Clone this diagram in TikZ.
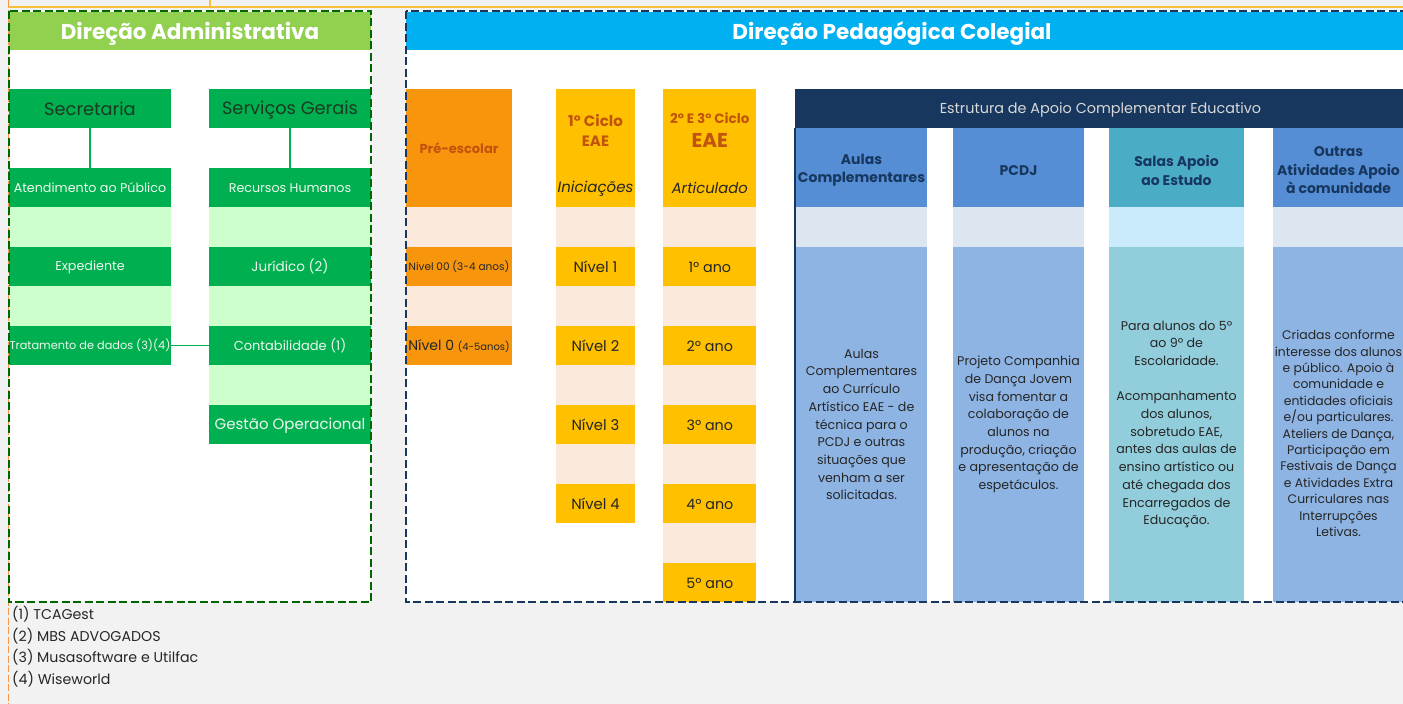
\documentclass[tikz,border=0pt]{standalone}
\usepackage{fontspec}
\setmainfont{Poppins}
\usepackage{tikz}

\definecolor{cBg}{HTML}{F2F2F2}
\definecolor{cTopLine}{HTML}{F9BE3A}
\definecolor{cLeftLine}{HTML}{F79646}
\definecolor{cAdmHead}{HTML}{92D050}
\definecolor{cAdmDark}{HTML}{00B050}
\definecolor{cAdmLight}{HTML}{CCFFCC}
\definecolor{cAdmLine}{HTML}{006600}
\definecolor{cAdmTop}{HTML}{1A3A22}
\definecolor{cAdmTxt}{HTML}{EEF7EE}
\definecolor{cPedHead}{HTML}{00B0F0}
\definecolor{cNavy}{HTML}{17375E}
\definecolor{cOrange}{HTML}{F7960C}
\definecolor{cYellow}{HTML}{FFC000}
\definecolor{cPeach}{HTML}{FBE9DC}
\definecolor{cBrown}{HTML}{C0540C}
\definecolor{cBlue}{HTML}{558ED5}
\definecolor{cBlueLight}{HTML}{DCE6F1}
\definecolor{cBlueBody}{HTML}{8EB4E3}
\definecolor{cTeal}{HTML}{4BACC6}
\definecolor{cTealLight}{HTML}{CAEBFB}
\definecolor{cTealBody}{HTML}{92CDDC}
\definecolor{cText}{HTML}{262626}
\definecolor{cEstrTxt}{HTML}{D9D9D9}

\begin{document}
\begin{tikzpicture}[x=1pt,y=-1pt,
    cell/.style={inner sep=0pt, outer sep=0pt, minimum height=39.5pt, align=center},
    line1/.style={execute at begin node={\rule[-0.15em]{0pt}{1.05em}}},
    adm/.style={cell, line1, fill=cAdmDark, minimum width=162pt, text=cAdmTxt, font=\fontsize{12.7}{15}\selectfont},
    admtop/.style={adm, text=cAdmTop, font=\fontsize{17.8}{21}\selectfont},
    admgap/.style={cell, fill=cAdmLight, minimum width=162pt},
    admlink/.style={cAdmDark, line width=1pt},
    headtxt/.style={inner sep=0pt, line1, text=white, font=\bfseries\fontsize{21.5}{25}\selectfont},
    pre/.style={cell, line1, fill=cOrange, minimum width=106pt, text=cText},
    ciclo/.style={cell, line1, fill=cYellow, text=cText, font=\fontsize{14.8}{17}\selectfont},
    peach/.style={cell, fill=cPeach},
    cicloname/.style={align=center, inner sep=0pt, text=cBrown, font=\bfseries\fontsize{15}{20}\selectfont},
    apoiohd/.style={cell, minimum width=131pt, minimum height=79pt},
    hdtxt/.style={yshift=-2.5pt, align=center, inner sep=0pt, text=cNavy, font=\bfseries\fontsize{14}{18.5}\selectfont},
    apoiogap/.style={cell, minimum width=131pt},
    apoiobody/.style={cell, minimum width=131pt, minimum height=355.2pt, text=cText, font=\fontsize{12.6}{17.7}\selectfont},
    note/.style={anchor=west, inner sep=0pt, line1, text=cText, font=\fontsize{14.2}{17}\selectfont},
    border/.style={line width=2pt, dash pattern=on 8pt off 3.5pt}]

    \clip (0,0) rectangle (1403,704);
    \fill[cBg] (0,0) rectangle (1403,704);

    % guide lines of the sheet
    \draw[cTopLine, line width=1.2pt] (8,7) -- (1403,7);
    \draw[cTopLine, line width=1.2pt] (210,0) -- (210,7);
    \draw[cLeftLine, dash pattern=on 7pt off 2.5pt] (8,0) -- (8,704);

    % panels
    \fill[white] (8.5,11) rectangle (371,602);
    \fill[white] (406,11) rectangle (1410,602);
    \fill[cAdmHead] (9,12) rectangle (371,50);
    \fill[cPedHead] (406,12) rectangle (1410,50);
    \node[headtxt] (admhead) at (190,32.5) {Direção Administrativa};
    \node[headtxt] (pedhead) at (892,32.5) {Direção Pedagógica Colegial};

    % direcao administrativa
    \node[admtop] (sec) at (90,108.7) {Secretaria};
    \node[admtop] (serv) at (290,108.7) {Serviços Gerais};
    \node[adm] (aten) at (90,187.7) {Atendimento ao Público};
    \node[adm] (exped) at (90,266.7) {Expediente};
    \node[adm, font=\fontsize{11.3}{14}\selectfont] (trat) at (90,345.7) {Tratamento de dados (3)(4)};
    \node[adm] (rh) at (290,187.7) {Recursos Humanos};
    \node[adm, font=\fontsize{13.5}{16}\selectfont] (jur) at (290,266.7) {Jurídico (2)};
    \node[adm, font=\fontsize{13}{16}\selectfont] (cont) at (290,345.7) {Contabilidade (1)};
    \node[adm, font=\fontsize{15}{18}\selectfont] (gest) at (290,424.7) {Gestão Operacional};
    \foreach \y [count=\k] in {227.2, 306.2}
        \node[admgap] (sgap\k) at (90,\y) {};
    \foreach \y [count=\k] in {227.2, 306.2, 385.2}
        \node[admgap] (vgap\k) at (290,\y) {};

    \draw[admlink, line width=2.5pt] (sec) -- (aten);
    \draw[admlink, line width=2.5pt] (serv) -- (rh);
    \draw[admlink] (trat) -- (cont);

    % pre-escolar
    \node[pre, minimum height=118.4pt, text=cBrown, font=\bfseries\fontsize{13}{16}\selectfont] (pre) at (459,148.2) {Pré-escolar};
    \node[pre, font=\fontsize{10.5}{13}\selectfont] (niv00) at (459,266.7) {Nivel 00 (3-4 anos)};
    \node[pre, font=\fontsize{14}{17}\selectfont] (niv0) at (459,345.7) {Nível 0 {\fontsize{10}{12}\selectfont(4-5anos)}};
    \foreach \y [count=\k] in {227.2, 306.2}
        \node[peach, minimum width=106pt] (pgap\k) at (459,\y) {};

    % 1o ciclo
    \node[cell, fill=cYellow, minimum width=79pt, minimum height=79pt,
        label={[cicloname, yshift=-2pt]center:{1º Ciclo\\EAE}}] (c1top) at (595.5,128.4) {};
    \node[ciclo, minimum width=79pt, font=\itshape\fontsize{15}{18}\selectfont] (c1ini) at (595.5,187.7) {Iniciações};
    \foreach \k/\y in {1/266.7, 2/345.7, 3/424.7, 4/503.7}
        \node[ciclo, minimum width=79pt] (niv\k) at (595.5,\y) {Nível \k};
    \foreach \y [count=\k] in {227.2, 306.2, 385.2, 464.2}
        \node[peach, minimum width=79pt] (cgap\k) at (595.5,\y) {};

    % 2o e 3o ciclo
    \node[cell, fill=cYellow, minimum width=93pt, minimum height=79pt,
        label={[cicloname, yshift=-2pt, font=\bfseries\fontsize{13.5}{16}\selectfont]center:{2º E 3º Ciclo\\[8pt]{\fontsize{20}{22}\selectfont EAE}}}] (c23top) at (709.8,128.4) {};
    \node[ciclo, minimum width=93pt, font=\itshape\fontsize{14.8}{18}\selectfont] (c23art) at (709.8,187.7) {Articulado};
    \foreach \k/\y in {1/266.7, 2/345.7, 3/424.7, 4/503.7, 5/582.7}
        \node[ciclo, minimum width=93pt, font=\fontsize{14.3}{17}\selectfont] (ano\k) at (709.8,\y) {{\k}º ano};
    \foreach \y [count=\k] in {227.2, 306.2, 385.2, 464.2, 543.2}
        \node[peach, minimum width=93pt] (agap\k) at (709.8,\y) {};

    % estrutura de apoio
    \node[cell, line1, fill=cNavy, minimum width=611pt, text=cEstrTxt, font=\fontsize{14.4}{17}\selectfont] (estr) at (1100.5,108.7) {Estrutura de Apoio Complementar Educativo};
    \draw[cNavy, line width=2pt] (estr.south west) -- (795,602);

    \node[apoiohd, fill=cBlue, label={[hdtxt]center:{Aulas\\Complementares}}] (aulhd) at (861.5,167.9) {};
    \node[apoiohd, fill=cBlue, label={[hdtxt]center:{PCDJ}}] (pcdjhd) at (1018.5,167.9) {};
    \node[apoiohd, fill=cTeal, minimum width=135pt, label={[hdtxt]center:{Salas Apoio\\ao Estudo}}] (salhd) at (1176.5,167.9) {};
    \node[apoiohd, fill=cBlue, label={[hdtxt]center:{Outras\\Atividades Apoio\\à comunidade}}] (outhd) at (1338.5,167.9) {};

    \node[apoiogap, fill=cBlueLight] (aulgap) at (861.5,227.2) {};
    \node[apoiogap, fill=cBlueLight] (pcdjgap) at (1018.5,227.2) {};
    \node[apoiogap, fill=cTealLight, minimum width=135pt] (salgap) at (1176.5,227.2) {};
    \node[apoiogap, fill=cBlueLight] (outgap) at (1338.5,227.2) {};

    \node[apoiobody, fill=cBlueBody] (aul) at (861.5,424.4) {Aulas\\Complementares\\ao Currículo\\Artístico EAE - de\\técnica para o\\PCDJ e outras\\situações que\\venham a ser\\solicitadas.};
    \node[apoiobody, fill=cBlueBody] (pcdj) at (1018.5,424.4) {Projeto Companhia\\de Dança Jovem\\visa fomentar a\\colaboração de\\alunos na\\produção, criação\\e apresentação de\\espetáculos.};
    \node[apoiobody, fill=cTealBody, minimum width=135pt] (sal) at (1176.5,424.4) {Para alunos do 5º\\ao 9º de\\Escolaridade.\\[17.7pt]Acompanhamento\\dos alunos,\\sobretudo EAE,\\antes das aulas de\\ensino artístico ou\\até chegada dos\\Encarregados de\\Educação.};
    \node[apoiobody, fill=cBlueBody,
        label={[yshift=-9pt, align=center, inner sep=0pt, text=cText, font=\fontsize{12.4}{16.4}\selectfont]center:{Criadas conforme\\interesse dos alunos\\e público. Apoio à\\comunidade e\\entidades oficiais\\e/ou particulares.\\Ateliers de Dança,\\Participação em\\Festivais de Dança\\e Atividades Extra\\Curriculares nas\\Interrupções\\Letivas.}}] (out) at (1338.5,424.4) {};

    % dashed outlines
    \draw[border, cAdmLine] (8.5,11) rectangle (371,602);
    \draw[border, cNavy] (406,11) rectangle (1420,602);

    % notes
    \foreach \t [count=\i] in {(1) TCAGest, (2) MBS ADVOGADOS, (3) Musasoftware e Utilfac, (4) Wiseworld}
        \node[note] (note\i) at (12,{592.5+21.6*\i}) {\t};
\end{tikzpicture}
\end{document}
